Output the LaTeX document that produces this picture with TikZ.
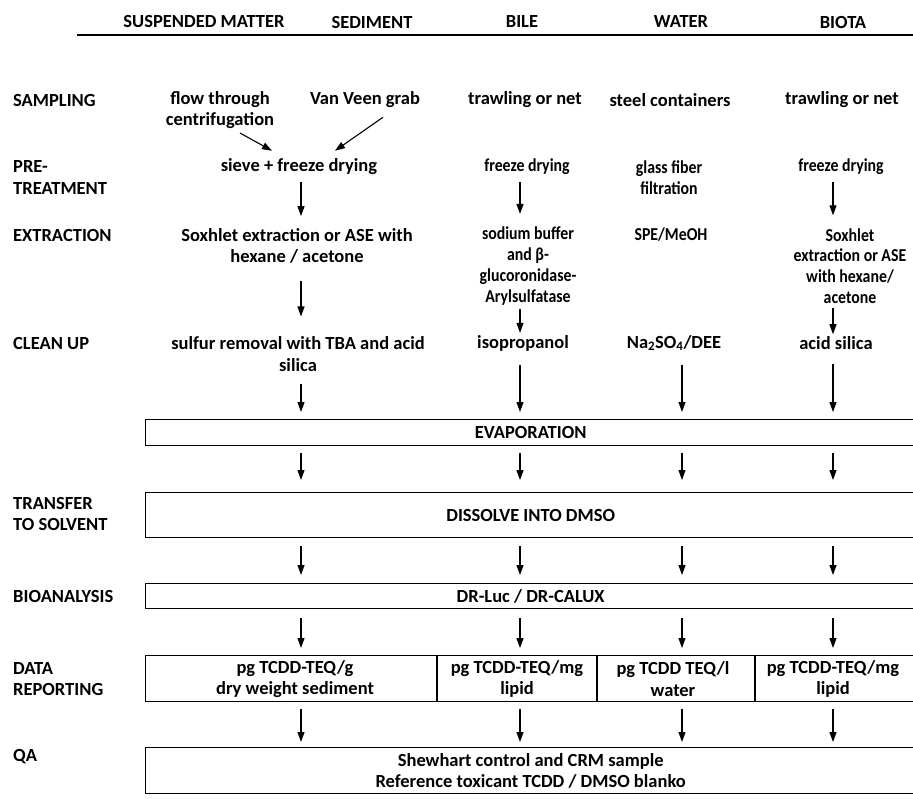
\documentclass[tikz,border=0pt]{standalone}
\usepackage{fontspec}
\setmainfont{Carlito}
\newfontfamily\condfont{Carlito}[FakeStretch=0.87]
\usetikzlibrary{arrows.meta}
\begin{document}
\begin{tikzpicture}[x=1pt,y=-1pt,
  every node/.style={font=\fontsize{18.5}{21.5}\selectfont\bfseries, inner sep=0pt, align=center},
  small/.style={font=\fontsize{18.2}{20.7}\condfont\bfseries},
  lbl/.style={anchor=west, align=left},
  arr/.style={-{Triangle[length=10pt,width=7pt]}, line width=1.1pt},
  bx/.style={draw, line width=1.4pt, anchor=north west, minimum width=770pt}]
\useasboundingbox (0,0) rectangle (913,798);
% column axes
\coordinate (k1) at (301,0);
\coordinate (k2) at (520,0);
\coordinate (k3) at (682,0);
\coordinate (k4) at (833,0);
% header
\node (hSM) at (204,22) {SUSPENDED MATTER};
\node (hSed) at (372,22) {SEDIMENT};
\node (hBile) at (522,22) {BILE};
\node (hWater) at (681,22) {WATER};
\node (hBiota) at (843,22) {BIOTA};
\coordinate (lineL) at (77,35);
\coordinate (lineR) at (913,35);
\draw[line width=1.5pt] (lineL) -- (lineR);
% row labels
\node[lbl] (lSamp) at (13,100) {SAMPLING};
\node[lbl] (lPre) at (13,177.5) {PRE-\\TREATMENT};
\node[lbl] (lExt) at (13,235) {EXTRACTION};
\node[lbl] (lClean) at (13,343) {CLEAN UP};
\node[lbl] (lTrans) at (13,514) {TRANSFER\\TO SOLVENT};
\node[lbl] (lBio) at (13,596) {BIOANALYSIS};
\node[lbl] (lData) at (13,679) {DATA\\REPORTING};
\node[lbl] (lQA) at (13,757) {QA};
% sampling
\node (sFlow) at (220,110) {flow through\\centrifugation};
\node (sVan) at (365,100) {Van Veen grab};
\node (sBile) at (525,100) {trawling or net};
\node (sWater) at (670,100) {steel containers};
\node (sBiota) at (842,100) {trawling or net};
% pre-treatment
\node (pSieve) at (299,167) {sieve + freeze drying};
\node[small] (pBile) at (527,167) {freeze drying};
\node[small] (pWater) at (669,177.5) {glass fiber\\filtration};
\node[small] (pBiota) at (841,167) {freeze drying};
% extraction
\node (eSox) at (297,246) {Soxhlet extraction or ASE with\\hexane / acetone};
\node[small] (eBile) at (528,266) {sodium buffer\\and β-\\glucoronidase-\\Arylsulfatase};
\node[small] (eWater) at (671,235) {SPE/MeOH};
\node[small] (eBiota) at (850,266) {Soxhlet\\extraction or ASE\\with hexane/\\acetone};
% clean up
\node (cSulf) at (298,354) {sulfur removal with TBA and acid\\silica};
\node (cBile) at (523,343) {isopropanol};
\node (cWater) at (674,343) {Na\textsubscript{2}SO\textsubscript{4}/DEE};
\node (cBiota) at (836,343) {acid silica};
% boxes
\node[bx, minimum height=26pt] (evap) at (145,419) {EVAPORATION};
\node[bx, minimum height=45pt] (diss) at (145,492) {DISSOLVE INTO DMSO};
\node[bx, minimum height=25pt] (bio) at (145,583) {DR-Luc / DR-CALUX};
\node[bx, minimum height=46pt] (data) at (145,655) {};
\node[bx, minimum height=46pt] (qa) at (145,747) {Shewhart control and CRM sample\\Reference toxicant TCDD / DMSO blanko};
\coordinate (d1) at (437,0);
\coordinate (d2) at (597,0);
\coordinate (d3) at (755,0);
\draw[line width=1.4pt] (data.north -| d1) -- (data.south -| d1);
\draw[line width=1.4pt] (data.north -| d2) -- (data.south -| d2);
\draw[line width=1.4pt] (data.north -| d3) -- (data.south -| d3);
\node (r1) at (295,679) {pg TCDD-TEQ/g\\dry weight sediment};
\node (r2) at (517,679) {pg TCDD-TEQ/mg\\lipid};
\node (r3) at (673,679) {pg TCDD TEQ/l\\water};
\node (r4) at (833,679) {pg TCDD-TEQ/mg\\lipid};
% sampling arrows
\draw[arr] ([shift={(20,4)}]sFlow.south) -- ([shift={(-27,-8)}]pSieve.north);
\draw[arr] ([shift={(18,9)}]sVan.south) -- ([shift={(36,-8)}]pSieve.north);
% column 1
\draw[arr] ([yshift=-7]pSieve.south -| k1) -- ([yshift=12]eSox.north -| k1);
\draw[arr] ([yshift=-17]eSox.south -| k1) -- ([yshift=20]cSulf.north -| k1);
\draw[arr] ([yshift=-12]cSulf.south -| k1) -- ([yshift=7]evap.north -| k1);
% bile
\draw[arr] ([yshift=-7]pBile.south -| k2) -- ([yshift=13]eBile.north -| k2);
\draw[arr] ([yshift=-4]eBile.south -| k2) -- ([yshift=2]cBile.north -| k2);
\draw[arr] ([yshift=-14]cBile.south -| k2) -- ([yshift=7]evap.north -| k2);
% water
\draw[arr] ([yshift=-14]cWater.south -| k3) -- ([yshift=7]evap.north -| k3);
% biota
\draw[arr] ([yshift=-7]pBiota.south -| k4) -- ([yshift=13]eBiota.north -| k4);
\draw[arr] ([yshift=-4]eBiota.south -| k4) -- ([yshift=2]cBiota.north -| k4);
\draw[arr] ([yshift=-14]cBiota.south -| k4) -- ([yshift=7]evap.north -| k4);
% between boxes
\foreach \k in {k1,k2,k3,k4}{
  \draw[arr] ([yshift=-7]evap.south -| \k) -- ([yshift=12]diss.north -| \k);
  \draw[arr] ([yshift=-8]diss.south -| \k) -- ([yshift=8]bio.north -| \k);
  \draw[arr] ([yshift=-9]bio.south -| \k) -- ([yshift=7]data.north -| \k);
  \draw[arr] ([yshift=-7]data.south -| \k) -- ([yshift=5]qa.north -| \k);
}
\end{tikzpicture}
\end{document}
